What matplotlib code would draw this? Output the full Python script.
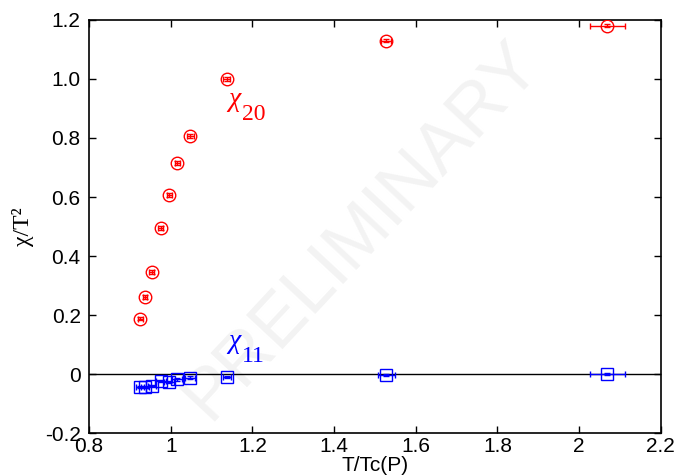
import matplotlib
matplotlib.use("Agg")
import matplotlib.pyplot as plt

# data
t_vals = [0.925, 0.937, 0.954, 0.976, 0.996, 1.016, 1.048, 1.137, 1.528, 2.069]
chi20 = [0.188, 0.261, 0.345, 0.495, 0.607, 0.715, 0.807, 1.000, 1.130, 1.181]
chi20_xerr = [0.006, 0.006, 0.006, 0.006, 0.006, 0.006, 0.008, 0.008, 0.012, 0.042]
chi20_yerr = [0.006, 0.006, 0.006, 0.006, 0.006, 0.006, 0.006, 0.006, 0.005, 0.005]
chi11 = [-0.043, -0.045, -0.040, -0.024, -0.028, -0.018, -0.012, -0.009, -0.004, -0.001]
chi11_xerr = [0.010, 0.010, 0.010, 0.012, 0.012, 0.012, 0.012, 0.010, 0.020, 0.042]
chi11_yerr = [0.004, 0.004, 0.004, 0.004, 0.004, 0.004, 0.004, 0.003, 0.003, 0.003]
xticks = [0.8, 1.0, 1.2, 1.4, 1.6, 1.8, 2.0, 2.2]
xticklabels = ["0.8", "1", "1.2", "1.4", "1.6", "1.8", "2", "2.2"]
yticks = [-0.2, 0.0, 0.2, 0.4, 0.6, 0.8, 1.0, 1.2]
yticklabels = ["-0.2", "0", "0.2", "0.4", "0.6", "0.8", "1.0", "1.2"]

fig = plt.figure(figsize=(6.82, 4.76), dpi=100)
ax = fig.add_axes([0.1305, 0.0903, 0.8385, 0.8677])

# watermark
ax.text(0.477, 0.489, "PRELIMINARY", transform=ax.transAxes, rotation=47,
        fontsize=52, color="#f3f3f3", ha="center", va="center",
        family="Liberation Sans", zorder=0)

ax.axhline(0, color="black", lw=1.0, zorder=1)

ax.errorbar(t_vals, chi20, xerr=chi20_xerr, yerr=chi20_yerr, fmt="o",
            mfc="none", mec="red", ecolor="red", ms=9, mew=1.0,
            elinewidth=1.0, capsize=2.5, zorder=3)
ax.errorbar(t_vals, chi11, xerr=chi11_xerr, yerr=chi11_yerr, fmt="s",
            mfc="none", mec="blue", ecolor="blue", ms=9, mew=1.0,
            elinewidth=1.0, capsize=2.5, zorder=3)

# labels chi_20 and chi_11
for (xl, yl, sub, col) in [(1.141, 0.861, "20", "red"), (1.141, 0.041, "11", "blue")]:
    ax.annotate("χ", (xl, yl), xytext=(0, 10), textcoords="offset points",
                fontsize=20, color=col, family="Liberation Serif", style="italic",
                ha="left", va="baseline")
    ax.annotate(sub, (xl, yl), xytext=(10, 0), textcoords="offset points",
                fontsize=17, color=col, family="Liberation Serif",
                ha="left", va="baseline")

ax.set_xlim(0.8, 2.2)
ax.set_ylim(-0.2, 1.2)
ax.set_xticks(xticks)
ax.set_xticklabels(xticklabels)
ax.set_yticks(yticks)
ax.set_yticklabels(yticklabels)
ax.tick_params(direction="in", length=5, width=1, top=True, right=True,
               labelsize=15)
ax.tick_params(axis="x", pad=3)
ax.tick_params(axis="y", pad=6)
for lab in ax.get_xticklabels() + ax.get_yticklabels():
    lab.set_family("Liberation Sans")
for s in ax.spines.values():
    s.set_linewidth(1.2)

ax.set_xlabel("T/Tc(P)", fontsize=15, family="Liberation Sans", labelpad=0)
ax.set_ylabel("χ/T²", fontsize=17, family="Liberation Serif", labelpad=8)

fig.savefig("out.png", dpi=100)
